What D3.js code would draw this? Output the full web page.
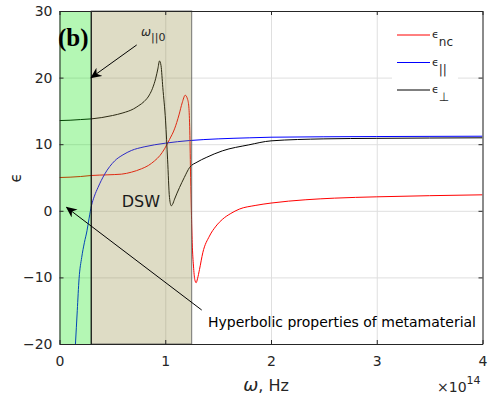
<!DOCTYPE html>
<html>
<head>
<meta charset="utf-8">
<script src="https://cdn.jsdelivr.net/npm/d3@7"></script>
<style>
body { margin: 0; background: #fff; }
svg { display: block; }
.sub { opacity: 0.99; }
</style>
</head>
<body>
<svg id="chart" width="492" height="401" font-family="DejaVu Sans, sans-serif" fill="#262626"></svg>
<script>
// permittivity curves, omega in units of 1e14 Hz
var epsNc = [[0,5.0],[0.1,5.05],[0.2,5.15],[0.3,5.3],[0.45,5.4],[0.585,5.5],[0.68,5.8],[0.774,6.3],
    [0.84,6.8],[0.899,7.5],[0.95,8.3],[0.993,9.3],[1.04,10.7],[1.088,12.3],[1.13,14.4],[1.16,16.2],
    [1.189,17.35],[1.21,16.8],[1.223,15.6],[1.232,12],[1.24,5],[1.247,0],[1.255,-4.8],[1.267,-8.3],
    [1.279,-10.3],[1.292,-10.8],[1.305,-10.2],[1.324,-8.8],[1.355,-6.3],[1.418,-3.8],[1.48,-2.3],
    [1.543,-1.25],[1.62,-0.4],[1.7,0.25],[1.85,0.8],[2.0,1.16],[2.33,1.66],[2.6,1.9],[3.0,2.1],
    [3.5,2.27],[4.0,2.4]];
var epsPar = [[0.151,-20],[0.168,-15],[0.185,-10.2],[0.21,-7],[0.235,-4.8],[0.26,-3.0],[0.28,-1.1],
    [0.302,0.75],[0.33,2.2],[0.364,3.5],[0.427,5.5],[0.522,7.5],[0.6,8.4],[0.679,9.05],[0.8,9.6],
    [1.0,10.15],[1.23,10.55],[1.5,10.8],[1.8,10.96],[2.0,11.05],[3.0,11.15],[4.0,11.2]];
var epsPerp = [[0,13.55],[0.1,13.6],[0.2,13.7],[0.3,13.8],[0.4,14.0],[0.5,14.3],[0.6,14.7],[0.7,15.3],
    [0.75,15.8],[0.8,16.4],[0.85,17.4],[0.88,18.4],[0.91,19.9],[0.93,21.3],[0.946,22.5],[0.96,21.8],
    [0.977,18.5],[1.003,13.5],[1.022,7.75],[1.04,2.0],[1.057,0.75],[1.07,1.0],[1.088,1.75],[1.135,3.5],
    [1.18,5.0],[1.23,6.5],[1.3,7.3],[1.387,8.0],[1.54,9.0],[1.79,9.9],[2.0,10.5],[2.5,10.8],
    [3.0,10.88],[3.5,10.93],[4.0,10.96]];

var xTicks = [0, 1, 2, 3, 4];
var yTicks = [-20, -10, 0, 10, 20, 30];
var greenBand = [0, 0.3];
var dswBand = [0.3, 1.25];
var omegaPar0 = 0.3;

var series = [
    {name: 'nc', data: epsNc, color: '#ff0000'},
    {name: '||', data: epsPar, color: '#0000ff'},
    {name: '\u22A5', data: epsPerp, color: '#000000'}
];

var svg = d3.select('#chart');
var x = d3.scaleLinear().domain([0, 4]).range([59.5, 482.5]);
var y = d3.scaleLinear().domain([-20, 30]).range([344, 11]);
var x0 = x.range()[0], x1 = x.range()[1], y0 = y.range()[0], y1 = y.range()[1];

svg.append('defs').append('clipPath').attr('id', 'clip')
    .append('rect').attr('x', x0).attr('y', y1).attr('width', x1 - x0).attr('height', y0 - y1);
svg.select('defs').append('marker')
    .attr('id', 'head').attr('viewBox', '0 0 10 10').attr('refX', 9).attr('refY', 5)
    .attr('markerWidth', 11).attr('markerHeight', 11).attr('markerUnits', 'userSpaceOnUse')
    .attr('orient', 'auto')
    .append('path').attr('d', 'M0,0.5 L10,5 L0,9.5 L3,5 Z').attr('fill', '#000');

// grid
svg.append('g').attr('transform', 'translate(0,' + y0 + ')')
    .call(d3.axisBottom(x).tickValues(xTicks).tickSize(-(y0 - y1)).tickFormat(''))
    .call(g => g.select('.domain').remove())
    .selectAll('line').attr('stroke', '#dfdfdf');
svg.append('g').attr('transform', 'translate(' + x0 + ',0)')
    .call(d3.axisLeft(y).tickValues(yTicks).tickSize(-(x1 - x0)).tickFormat(''))
    .call(g => g.select('.domain').remove())
    .selectAll('line').attr('stroke', '#dfdfdf');

// curves
var line = d3.line().x(d => x(d[0])).y(d => y(d[1])).curve(d3.curveMonotoneX);
svg.append('g').attr('clip-path', 'url(#clip)')
    .selectAll('path').data(series).join('path')
    .attr('d', d => line(d.data))
    .attr('fill', 'none').attr('stroke', d => d.color).attr('stroke-width', 1);

// shaded regions (semi transparent, on top of the curves)
svg.append('rect').attr('x', x(greenBand[0])).attr('y', y1)
    .attr('width', x(greenBand[1]) - x(greenBand[0])).attr('height', y0 - y1)
    .attr('fill', 'rgb(5,228,5)').attr('fill-opacity', 0.3);
svg.append('rect').attr('x', x(dswBand[0])).attr('y', y1)
    .attr('width', x(dswBand[1]) - x(dswBand[0])).attr('height', y0 - y1)
    .attr('fill', 'rgb(145,138,62)').attr('fill-opacity', 0.3)
    .attr('stroke', '#555').attr('stroke-opacity', 0.8);
svg.append('line').attr('x1', x(omegaPar0)).attr('x2', x(omegaPar0))
    .attr('y1', y0).attr('y2', y1).attr('stroke', '#000');

// axes box with inward ticks
function box(g) {
    g.attr('font-family', null).attr('font-size', 14);
    g.selectAll('.domain').attr('stroke', '#262626');
    g.selectAll('.tick line').attr('stroke', '#262626');
    g.selectAll('text').attr('fill', '#262626');
}
var fmt = d3.format('d');
svg.append('g').attr('transform', 'translate(0,' + y0 + ')')
    .call(d3.axisBottom(x).tickValues(xTicks).tickSizeInner(-4).tickSizeOuter(0).tickPadding(12.5).tickFormat(fmt))
    .call(box);
svg.append('g').attr('transform', 'translate(0,' + y1 + ')')
    .call(d3.axisTop(x).tickValues(xTicks).tickSizeInner(-4).tickSizeOuter(0).tickFormat(''))
    .call(box);
svg.append('g').attr('transform', 'translate(' + x0 + ',0)')
    .call(d3.axisLeft(y).tickValues(yTicks).tickSizeInner(-4).tickSizeOuter(0).tickPadding(7).tickFormat(fmt))
    .call(box);
svg.append('g').attr('transform', 'translate(' + x1 + ',0)')
    .call(d3.axisRight(y).tickValues(yTicks).tickSizeInner(-4).tickSizeOuter(0).tickFormat(''))
    .call(box);

// axis labels
svg.append('text').attr('transform', 'translate(21,178) rotate(-90)')
    .attr('text-anchor', 'middle').attr('font-size', 15).text('\u03F5');
var xl = svg.append('text').attr('x', 266).attr('y', 391).attr('text-anchor', 'middle').attr('font-size', 16);
xl.append('tspan').attr('font-style', 'italic').attr('font-size', 18).text('\u03C9');
xl.append('tspan').text(', Hz');
var ex = svg.append('text').attr('x', 437).attr('y', 392).attr('font-size', 14);
ex.append('tspan').text('\u00D710');
ex.append('tspan').attr('dy', -8).attr('font-size', 11).text('14');

// legend
var lg = svg.append('g');
lg.append('rect').attr('x', 392).attr('y', 18).attr('width', 66).attr('height', 88).attr('fill', '#fff');
var items = lg.selectAll('g.item').data(series).join('g').attr('class', 'item')
    .attr('transform', (d, i) => 'translate(0,' + (35 + i * 27.5) + ')');
items.append('line').attr('x1', 397).attr('x2', 430).attr('stroke', d => d.color);
var lt = items.append('text').attr('class', 'sub').attr('x', 432).attr('y', 3).attr('font-size', 11);
lt.append('tspan').text('\u03F5');
lt.append('tspan').attr('dy', 8).attr('font-size', 12).text(d => d.name);

// annotations
svg.append('text').attr('x', 58).attr('y', 46).attr('font-family', 'Liberation Serif, serif')
    .attr('font-weight', 'bold').attr('font-size', 25).attr('fill', '#000').text('(b)');
var wl = svg.append('text').attr('class', 'sub').attr('x', 141).attr('y', 36).attr('font-size', 12);
wl.append('tspan').attr('font-style', 'italic').text('\u03C9');
wl.append('tspan').attr('dy', 5).attr('font-size', 11).text('||0');
svg.append('line').attr('x1', x(0.73)).attr('y1', y(24.9)).attr('x2', x(omegaPar0)).attr('y2', y(20))
    .attr('stroke', '#000').attr('marker-end', 'url(#head)');

svg.append('text').attr('x', x(0.588)).attr('y', y(0.5)).attr('font-size', 16).attr('fill', '#1a1a1a').text('DSW');

svg.append('line').attr('x1', x(1.345)).attr('y1', y(-14.9)).attr('x2', x(0.068)).attr('y2', y(0.5))
    .attr('stroke', '#000').attr('marker-end', 'url(#head)');
svg.append('text').attr('x', x(1.404)).attr('y', y(-17.4)).attr('font-size', 14).attr('fill', '#000')
    .text('Hyperbolic properties of metamaterial');
</script>
</body>
</html>
